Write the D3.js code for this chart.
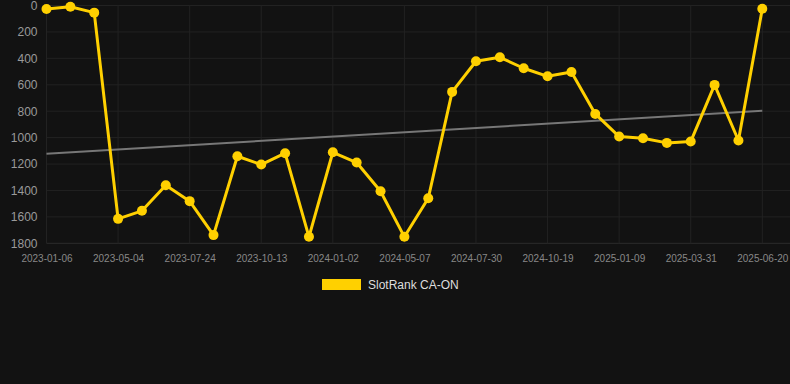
<!DOCTYPE html>
<html>
<head>
<meta charset="utf-8">
<script src="https://cdn.jsdelivr.net/npm/d3@7"></script>
<style>
html,body{margin:0;padding:0;background:#121212;}
svg{display:block;}
</style>
</head>
<body>
<svg id="chart" width="790" height="384"></svg>
<script>
// ---- data ----
const dates = [
  "2023-01-06","2023-02-14","2023-03-25","2023-05-04","2023-05-31","2023-06-27",
  "2023-07-24","2023-08-20","2023-09-16","2023-10-13","2023-11-09","2023-12-06",
  "2024-01-02","2024-02-13","2024-03-26","2024-05-07","2024-06-04","2024-07-02",
  "2024-07-30","2024-08-26","2024-09-22","2024-10-19","2024-11-15","2024-12-12",
  "2025-01-09","2025-02-05","2025-03-04","2025-03-31","2025-04-27","2025-05-24",
  "2025-06-20"
];
const ranks = [
  26, 9, 54, 1615, 1554, 1360, 1481, 1738, 1141, 1204, 1118, 1751,
  1111, 1189, 1406, 1751, 1459, 654, 422, 392, 475, 536, 503, 821,
  992, 1005, 1040, 1030, 601, 1022, 24
];
const yTicks = [0, 200, 400, 600, 800, 1000, 1200, 1400, 1600, 1800];
const trendEnds = [1123, 796];
const seriesName = "SlotRank CA-ON";

// ---- layout ----
const svg = d3.select("#chart");
const pLeft = 46.5, pRight = 762.3, pTop = 5.5, pBottom = 243.3;
const gridRight = 790;

const x = d3.scalePoint().domain(dates).range([pLeft, pRight]);
const y = d3.scaleLinear().domain([0, 1800]).range([pTop, pBottom]);

// horizontal grid
svg.append("g").selectAll("line").data(yTicks).join("line")
  .attr("x1", pLeft).attr("x2", gridRight)
  .attr("y1", d => y(d)).attr("y2", d => y(d))
  .attr("stroke", d => d === 1800 ? "#2c2c2c" : "#222")
  .attr("stroke-width", 1);

// vertical grid at labelled dates
const labelled = dates.filter((d, i) => i % 3 === 0);
svg.append("g").selectAll("line").data(labelled).join("line")
  .attr("x1", d => x(d)).attr("x2", d => x(d))
  .attr("y1", pTop).attr("y2", pBottom)
  .attr("stroke", "#222").attr("stroke-width", 1);

// y axis labels
const yAxis = d3.axisLeft(y).tickValues(yTicks).tickFormat(d3.format("d")).tickSize(0).tickPadding(0);
const yg = svg.append("g").attr("transform", `translate(${pLeft - 9},0)`).call(yAxis);
yg.select(".domain").remove();
yg.selectAll("text")
  .attr("fill", "#9a9a9a")
  .style("font-family", "Liberation Sans, Arial, sans-serif")
  .style("font-size", "12px");

// x axis labels
const xAxis = d3.axisBottom(x).tickValues(labelled).tickSize(0).tickPadding(0);
const xg = svg.append("g").attr("transform", `translate(0,${pBottom + 12})`).call(xAxis);
xg.select(".domain").remove();
xg.selectAll("text")
  .attr("fill", "#888")
  .style("font-family", "Liberation Sans, Arial, sans-serif")
  .style("font-size", "10px");

// trend line
svg.append("line")
  .attr("x1", x(dates[0])).attr("x2", x(dates[dates.length - 1]))
  .attr("y1", y(trendEnds[0])).attr("y2", y(trendEnds[1]))
  .attr("stroke", "#777").attr("stroke-width", 2);

// series line
const color = "#FFD000";
svg.append("path")
  .datum(ranks)
  .attr("fill", "none")
  .attr("stroke", color)
  .attr("stroke-width", 3)
  .attr("stroke-linejoin", "round")
  .attr("d", d3.line().x((d, i) => x(dates[i])).y(d => y(d)));

svg.append("g").selectAll("circle").data(ranks).join("circle")
  .attr("cx", (d, i) => x(dates[i]))
  .attr("cy", d => y(d))
  .attr("r", 5)
  .attr("fill", color);

// legend
svg.append("rect")
  .attr("x", 322).attr("y", 279).attr("width", 39).attr("height", 11)
  .attr("fill", color);
svg.append("text")
  .attr("x", 368).attr("y", 289)
  .attr("fill", "#dddddd")
  .style("font-family", "Liberation Sans, Arial, sans-serif")
  .style("font-size", "12px")
  .text(seriesName);
</script>
</body>
</html>
